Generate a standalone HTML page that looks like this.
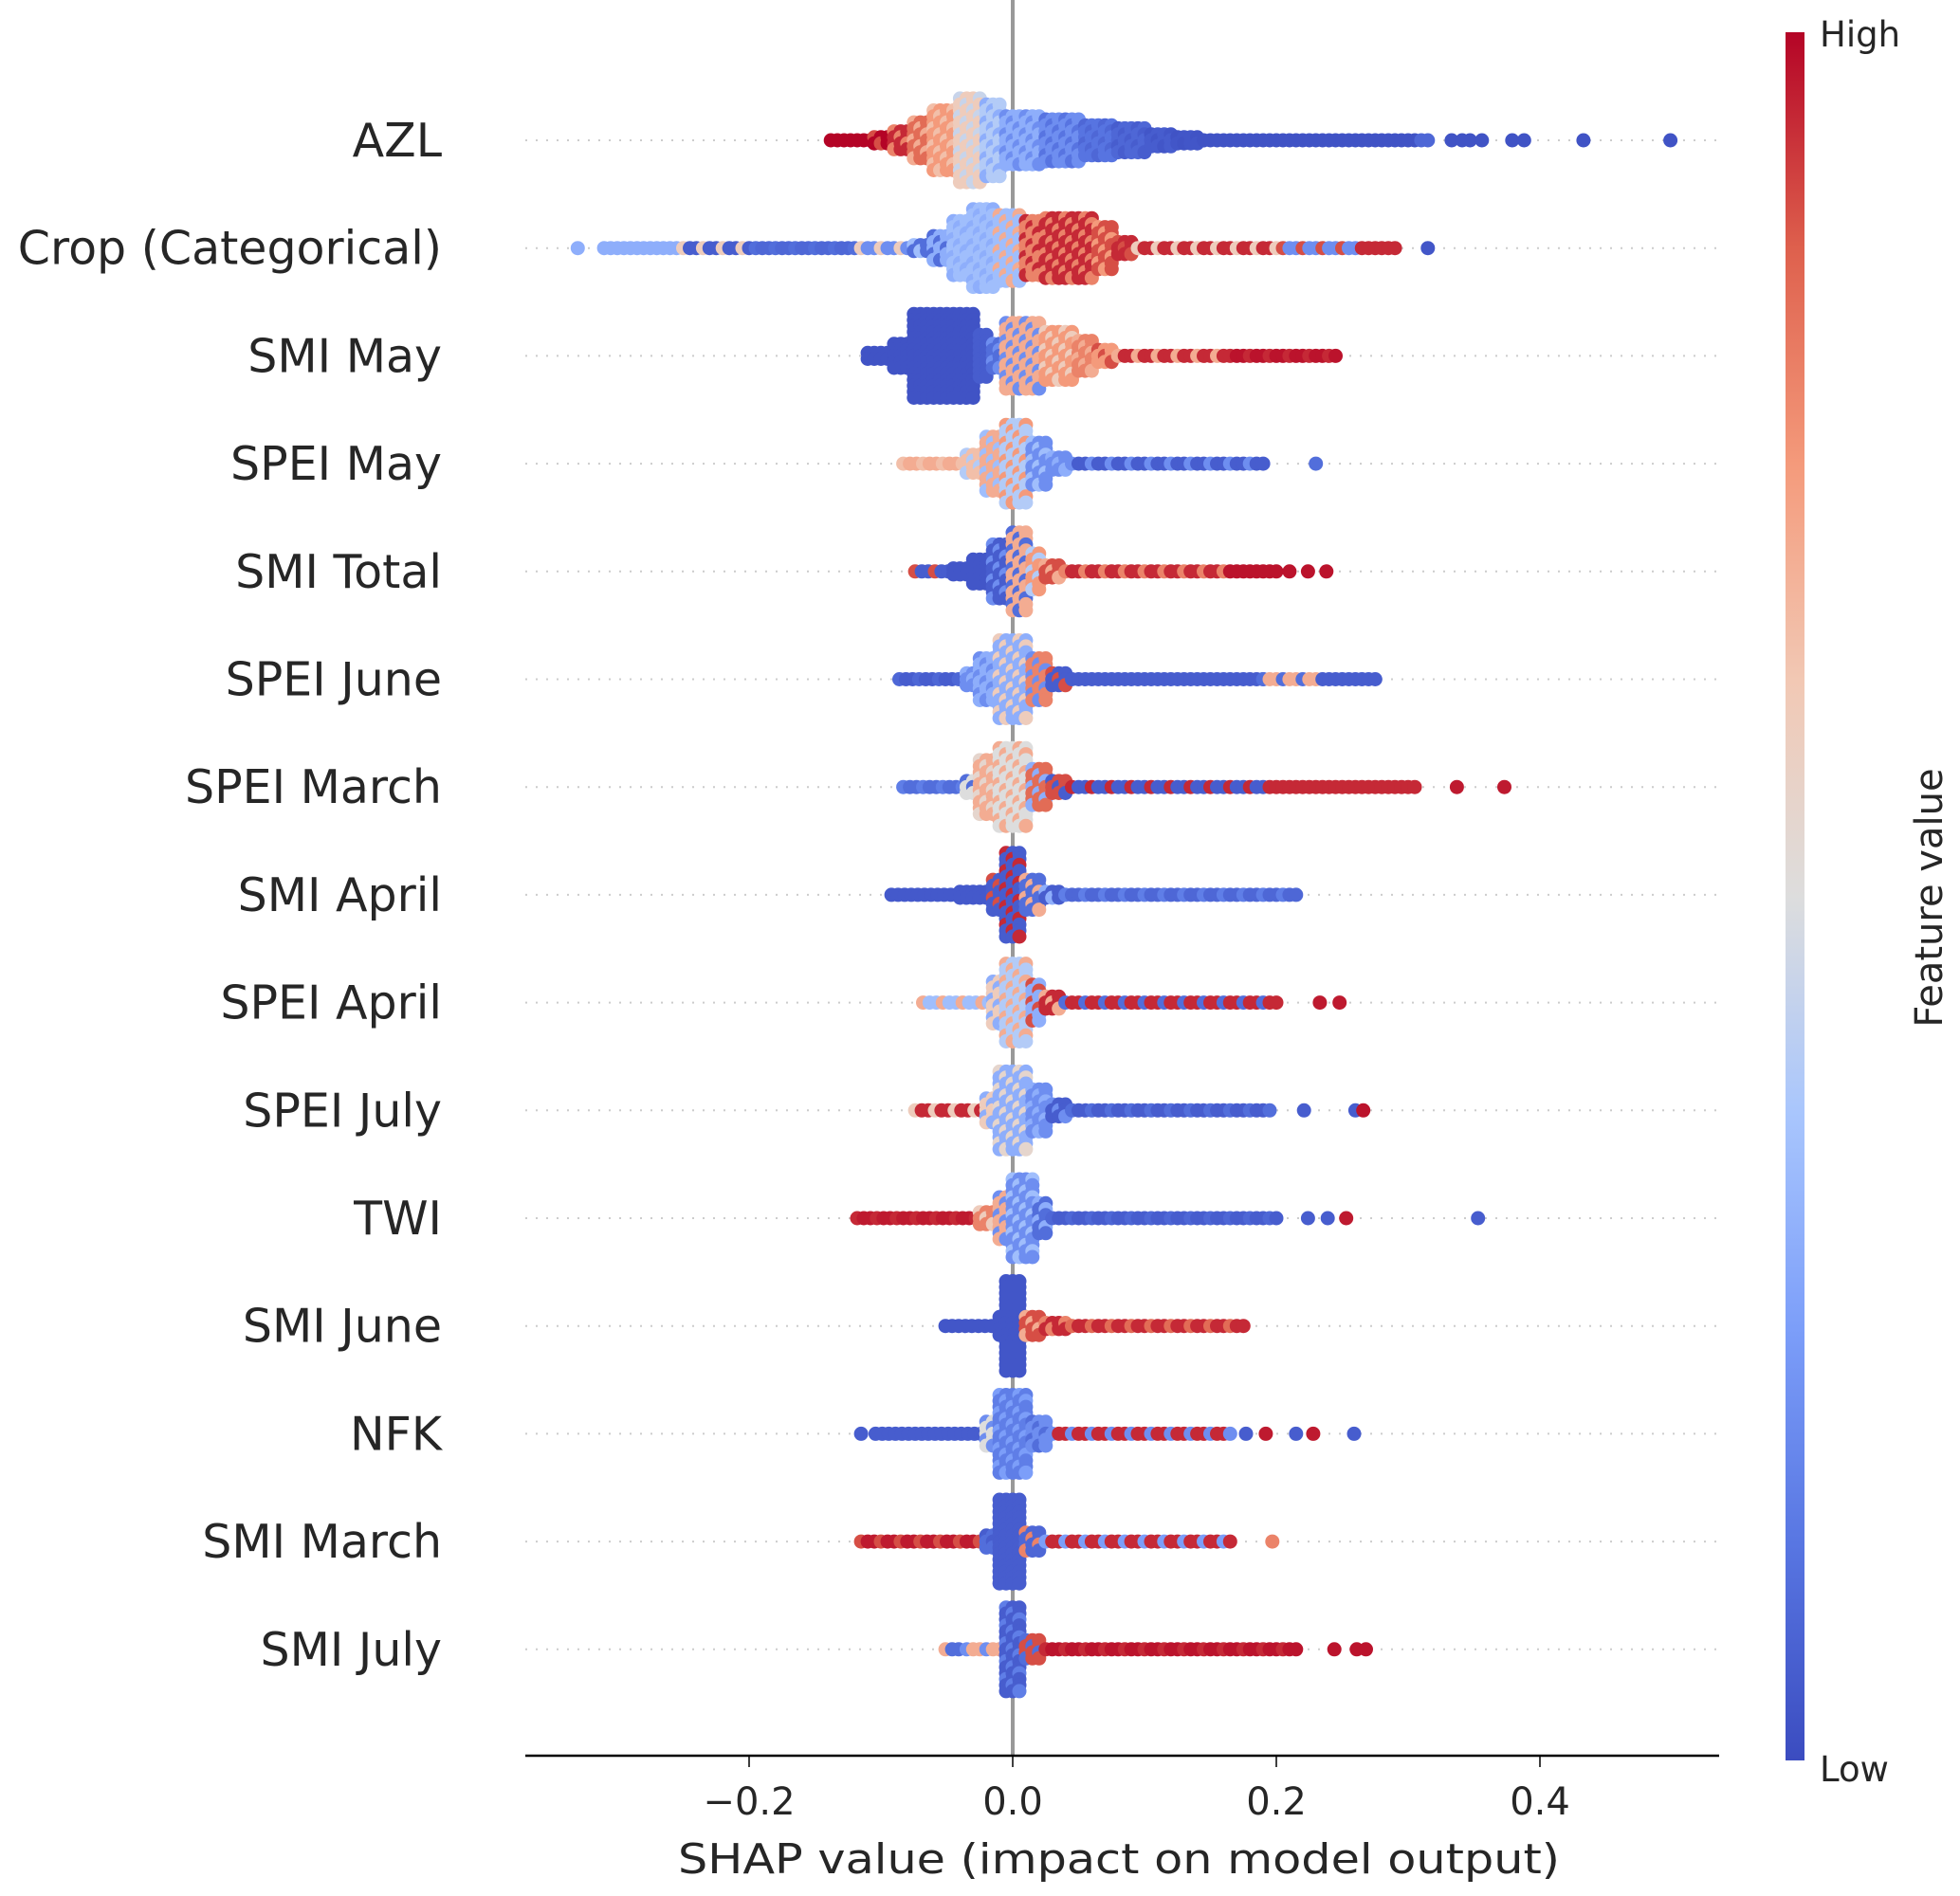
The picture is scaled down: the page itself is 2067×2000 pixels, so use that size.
<!DOCTYPE html>
<html><head><meta charset="utf-8"><style>
html,body{margin:0;padding:0;background:#fff;}
svg{display:block;}
text{font-family:"DejaVu Sans","Liberation Sans",sans-serif;fill:#262626;}
</style></head><body>
<svg id="chart" width="2067" height="2000" viewBox="0 0 2067 2000" xmlns="http://www.w3.org/2000/svg">
<defs>
<linearGradient id="cbgrad" x1="0" y1="1" x2="0" y2="0">
<stop offset="0" stop-color="#3b4cc0"/><stop offset="0.125" stop-color="#5876e2"/><stop offset="0.25" stop-color="#7c9ef9"/><stop offset="0.375" stop-color="#a9c6fd"/><stop offset="0.5" stop-color="#dddddd"/><stop offset="0.625" stop-color="#f2c8b4"/><stop offset="0.75" stop-color="#f49a7b"/><stop offset="0.875" stop-color="#de604d"/><stop offset="1" stop-color="#b40426"/>
</linearGradient>
</defs>
<g id="grid"></g>
<line x1="1068" y1="0" x2="1068" y2="1852" stroke="#999" stroke-width="4"/>
<g id="dots"></g>
<g id="labels"></g>
<line x1="554" y1="1852" x2="1813" y2="1852" stroke="#000" stroke-width="2.5"/>
<g id="xticks"></g>
<text x="1180" y="1976" font-size="44" text-anchor="middle" textLength="930" lengthAdjust="spacingAndGlyphs">SHAP value (impact on model output)</text>
<rect x="1883" y="34" width="20" height="1823" fill="url(#cbgrad)"/>
<text x="1919" y="49" font-size="37">High</text>
<text x="1919" y="1879" font-size="37">Low</text>
<text transform="translate(2048,947) rotate(-90)" font-size="40" text-anchor="middle">Feature value</text>
</svg>
<script>
const features = ["AZL","Crop (Categorical)","SMI May","SPEI May","SMI Total","SPEI June","SPEI March","SMI April","SPEI April","SPEI July","TWI","SMI June","NFK","SMI March","SMI July"];
const xTicks = [-0.2, 0.0, 0.2, 0.4];
const xTickLabels = ["\u22120.2","0.0","0.2","0.4"];
// segments: [shapStart, shapEnd, stackCount, featureValueA, featureValueB]
const segAZL = [[-0.138,-0.11,1,1,1],[-0.105,-0.095,2,1,0.9],[-0.09,-0.08,4,0.95,0.8],[-0.075,-0.065,7,0.85,0.7],[-0.06,-0.045,11,0.75,0.65],[-0.04,-0.025,15,0.6,0.45],[-0.02,-0.01,13,0.4,0.3],[-0.005,0.02,9,0.3,0.2],[0.025,0.05,8,0.2,0.12],[0.055,0.075,6,0.12,0.08],[0.08,0.1,5,0.08,0.05],[0.105,0.12,3,0.05,0.03],[0.125,0.14,2,0.03,0.02],[0.145,0.305,1,0.02,0.02],[0.31,0.315,1,0.08,0.08],[0.333,0.333,1,0.02,0.02],[0.341,0.341,1,0.02,0.02],[0.347,0.347,1,0.02,0.02],[0.356,0.356,1,0.02,0.02],[0.379,0.379,1,0.02,0.02],[0.388,0.388,1,0.02,0.02],[0.433,0.433,1,0.02,0.02],[0.499,0.499,1,0.02,0.02]];
const segCrop = [[-0.33,-0.33,1,0.3,0.3],[-0.31,-0.255,1,0.3,0.3],[-0.25,-0.2,1,0.05,0.6],[-0.195,-0.12,1,0.08,0.1],[-0.115,-0.08,1,0.2,0.6],[-0.075,-0.065,2,0.1,0.35],[-0.06,-0.05,5,0.3,0.1],[-0.045,-0.035,10,0.35,0.3],[-0.03,-0.015,14,0.35,0.3],[-0.01,0.005,12,0.35,0.7],[0.01,0.02,10,0.8,0.95],[0.025,0.06,11,0.95,0.8],[0.065,0.075,8,0.9,0.75],[0.08,0.09,3,0.95,0.9],[0.095,0.2,1,0.95,0.6],[0.205,0.26,1,0.2,0.9],[0.265,0.29,1,0.95,0.95],[0.315,0.315,1,0.03,0.03]];
const segSMIMay = [[-0.11,-0.095,2,0.02,0.02],[-0.09,-0.08,5,0.02,0.02],[-0.075,-0.03,15,0.02,0.02],[-0.025,-0.02,8,0.05,0.05],[-0.015,-0.01,5,0.1,0.2],[-0.005,0.02,12,0.7,0.2],[0.025,0.045,9,0.75,0.6],[0.05,0.06,6,0.8,0.7],[0.065,0.075,3,0.75,0.9],[0.08,0.16,1,0.95,0.7],[0.165,0.24,1,0.98,0.95],[0.245,0.245,1,0.98,0.98]];
const segSPEIMay = [[-0.083,-0.04,1,0.7,0.65],[-0.035,-0.025,4,0.65,0.4],[-0.02,-0.01,10,0.7,0.35],[-0.005,0.01,14,0.4,0.75],[0.015,0.025,8,0.2,0.35],[0.03,0.04,3,0.2,0.3],[0.045,0.19,1,0.05,0.2],[0.23,0.23,1,0.1,0.1]];
const segSMITotal = [[-0.074,-0.05,1,0.05,0.9],[-0.045,-0.035,2,0.03,0.03],[-0.03,-0.02,5,0.03,0.03],[-0.015,-0.005,10,0.05,0.2],[0.0,0.01,14,0.7,0.1],[0.015,0.02,7,0.75,0.4],[0.025,0.035,3,0.9,0.7],[0.04,0.16,1,0.95,0.8],[0.165,0.2,1,0.98,0.98],[0.21,0.21,1,0.98,0.98],[0.224,0.224,1,0.98,0.98],[0.238,0.238,1,0.98,0.98]];
const segSPEIJune = [[-0.086,-0.04,1,0.05,0.08],[-0.035,-0.03,3,0.2,0.3],[-0.025,-0.015,8,0.3,0.2],[-0.01,0.01,14,0.3,0.6],[0.015,0.025,8,0.8,0.2],[0.03,0.04,3,0.05,0.9],[0.045,0.19,1,0.05,0.05],[0.19,0.23,1,0.7,0.1],[0.235,0.275,1,0.05,0.05]];
const segSPEIMarch = [[-0.083,-0.04,1,0.1,0.15],[-0.035,-0.03,3,0.5,0.1],[-0.025,-0.015,10,0.7,0.55],[-0.01,0.01,14,0.5,0.7],[0.015,0.025,7,0.85,0.3],[0.03,0.04,3,0.9,0.05],[0.045,0.19,1,0.05,0.95],[0.195,0.305,1,0.95,0.95],[0.337,0.337,1,0.97,0.97],[0.373,0.373,1,0.97,0.97]];
const segSMIApril = [[-0.092,-0.045,1,0.04,0.04],[-0.04,-0.02,2,0.04,0.04],[-0.015,-0.01,6,0.05,0.9],[-0.005,0.005,15,0.05,0.95],[0.01,0.02,6,0.1,0.7],[0.025,0.035,2,0.05,0.3],[0.04,0.215,1,0.08,0.15]];
const segSPEIApril = [[-0.068,-0.02,1,0.35,0.7],[-0.015,-0.01,8,0.6,0.3],[-0.005,0.01,14,0.4,0.7],[0.015,0.02,7,0.3,0.9],[0.025,0.035,3,0.95,0.7],[0.04,0.2,1,0.95,0.1],[0.233,0.233,1,0.97,0.97],[0.248,0.248,1,0.97,0.97]];
const segSPEIJuly = [[-0.074,-0.025,1,0.95,0.6],[-0.02,-0.015,5,0.6,0.3],[-0.01,0.01,14,0.3,0.55],[0.015,0.025,8,0.2,0.3],[0.03,0.04,3,0.05,0.2],[0.045,0.195,1,0.05,0.1],[0.221,0.221,1,0.05,0.05],[0.26,0.26,1,0.05,0.05],[0.266,0.266,1,0.98,0.98]];
const segTWI = [[-0.118,-0.03,1,0.97,0.95],[-0.025,-0.015,3,0.8,0.6],[-0.01,-0.005,8,0.7,0.2],[0.0,0.015,14,0.2,0.35],[0.02,0.025,6,0.1,0.3],[0.03,0.2,1,0.05,0.08],[0.224,0.224,1,0.05,0.05],[0.239,0.239,1,0.05,0.05],[0.253,0.253,1,0.97,0.97],[0.353,0.353,1,0.05,0.05]];
const segSMIJune = [[-0.051,-0.015,1,0.03,0.03],[-0.01,-0.01,4,0.03,0.03],[-0.005,0.005,16,0.03,0.03],[0.01,0.02,4,0.9,0.7],[0.025,0.04,2,0.95,0.8],[0.045,0.175,1,0.95,0.85]];
const segNFK = [[-0.115,-0.115,1,0.05,0.05],[-0.104,-0.025,1,0.05,0.05],[-0.02,-0.015,5,0.5,0.2],[-0.01,0.01,14,0.15,0.25],[0.015,0.025,5,0.2,0.1],[0.03,0.165,1,0.95,0.2],[0.177,0.177,1,0.05,0.05],[0.192,0.192,1,0.97,0.97],[0.215,0.215,1,0.05,0.05],[0.228,0.228,1,0.97,0.97],[0.259,0.259,1,0.05,0.05]];
const segSMIMarch = [[-0.115,-0.025,1,0.97,0.9],[-0.02,-0.015,3,0.1,0.05],[-0.01,0.005,15,0.05,0.05],[0.01,0.02,4,0.08,0.8],[0.025,0.165,1,0.95,0.25],[0.197,0.197,1,0.8,0.8]];
const segSMIJuly = [[-0.051,-0.04,1,0.1,0.7],[-0.035,-0.01,1,0.7,0.2],[-0.005,0.005,15,0.05,0.15],[0.01,0.02,4,0.9,0.1],[0.025,0.215,1,0.98,0.95],[0.244,0.244,1,0.98,0.98],[0.261,0.261,1,0.98,0.98],[0.268,0.268,1,0.98,0.98]];
const rowSegments = [segAZL,segCrop,segSMIMay,segSPEIMay,segSMITotal,segSPEIJune,segSPEIMarch,segSMIApril,segSPEIApril,segSPEIJuly,segTWI,segSMIJune,segNFK,segSMIMarch,segSMIJuly];

const NS = "http://www.w3.org/2000/svg";
function xScale(v){ return 1068 + v * 1390; }
function yScale(i){ return 148 + i * 113.7; }
const cmStops = [[0,59,76,192],[0.125,88,118,226],[0.25,124,158,249],[0.375,169,198,253],[0.5,221,221,221],[0.625,242,200,180],[0.75,244,154,123],[0.875,222,96,77],[1,180,4,38]];
function cmap(t){
  t = Math.max(0, Math.min(1, t));
  for (let k = 1; k < cmStops.length; k++) {
    if (t <= cmStops[k][0]) {
      const a = cmStops[k-1], b = cmStops[k], f = (t - a[0]) / (b[0] - a[0]);
      return "rgb(" + Math.round(a[1]+(b[1]-a[1])*f) + "," + Math.round(a[2]+(b[2]-a[2])*f) + "," + Math.round(a[3]+(b[3]-a[3])*f) + ")";
    }
  }
  return "rgb(180,4,38)";
}
const grid = document.getElementById("grid");
const dots = document.getElementById("dots");
const labels = document.getElementById("labels");
const xt = document.getElementById("xticks");
features.forEach(function(name, i){
  const y = yScale(i);
  const gl = document.createElementNS(NS, "line");
  gl.setAttribute("x1", 554); gl.setAttribute("x2", 1813);
  gl.setAttribute("y1", y); gl.setAttribute("y2", y);
  gl.setAttribute("stroke", "#cccccc"); gl.setAttribute("stroke-width", "2");
  gl.setAttribute("stroke-dasharray", "2 9");
  
  
  grid.appendChild(gl);
  const t = document.createElementNS(NS, "text");
  t.setAttribute("x", 466); t.setAttribute("y", y + 17);
  t.setAttribute("text-anchor", "end"); t.setAttribute("font-size", "49");
  t.textContent = name;
  
  
  labels.appendChild(t);
  const g = document.createElementNS(NS, "g");
  
  
  rowSegments[i].forEach(function(s){
    const steps = Math.max(0, Math.round((s[1] - s[0]) / 0.005));
    for (let j = 0; j <= steps; j++) {
      const v = s[0] + j * 0.005;
      const n = s[2];
      for (let k = 0; k < n; k++) {
        const c = document.createElementNS(NS, "circle");
        c.setAttribute("cx", xScale(v).toFixed(1));
        c.setAttribute("cy", (y + (k - (n - 1) / 2) * 6.3).toFixed(1));
        c.setAttribute("r", 7.5);
        c.setAttribute("fill", cmap(((j * 2 + k) % 3 === 0) ? s[4] : s[3]));
        
        
        g.appendChild(c);
      }
    }
  });
  dots.appendChild(g);
});
xTicks.forEach(function(v, i){
  const x = xScale(v);
  const l = document.createElementNS(NS, "line");
  l.setAttribute("x1", x); l.setAttribute("x2", x);
  l.setAttribute("y1", 1852); l.setAttribute("y2", 1864);
  l.setAttribute("stroke", "#000"); l.setAttribute("stroke-width", "1.5");
  
  
  xt.appendChild(l);
  const t = document.createElementNS(NS, "text");
  t.setAttribute("x", x); t.setAttribute("y", 1914);
  t.setAttribute("text-anchor", "middle"); t.setAttribute("font-size", "40");
  t.textContent = xTickLabels[i];
  
  
  xt.appendChild(t);
});
</script>
</body></html>
